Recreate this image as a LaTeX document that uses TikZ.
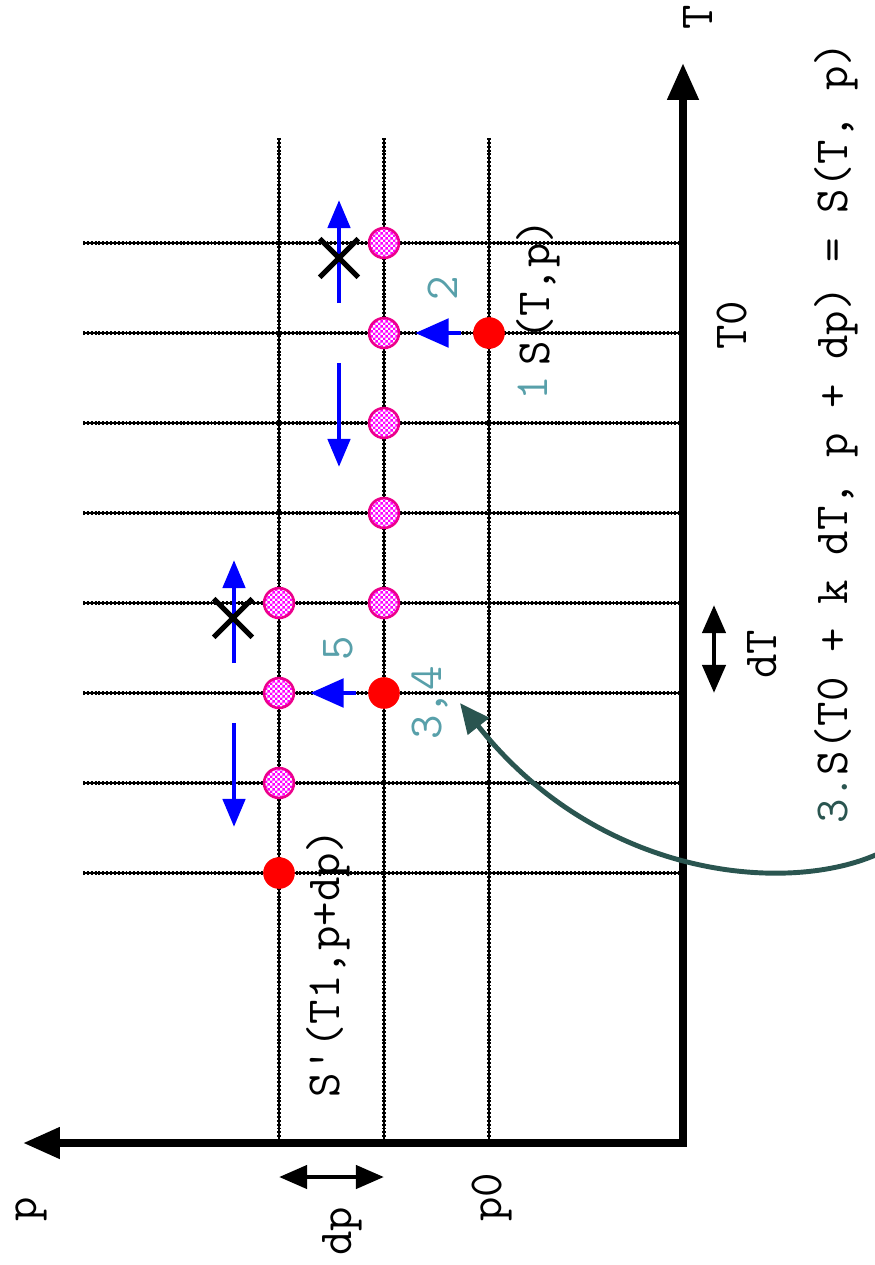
\documentclass[tikz,border=0pt]{standalone}
\usetikzlibrary{arrows.meta,patterns,shapes.misc}
\definecolor{hellblau}{RGB}{88,160,170}
\definecolor{dunkelgruen}{RGB}{42,85,80}
\pgfdeclarepatternformonly{feinkaro}{\pgfpointorigin}{\pgfqpoint{2.8pt}{2.8pt}}{\pgfqpoint{2.8pt}{2.8pt}}{%
    \pgfpathrectangle{\pgfpointorigin}{\pgfqpoint{1.4pt}{1.4pt}}%
    \pgfpathrectangle{\pgfqpoint{1.4pt}{1.4pt}}{\pgfqpoint{1.4pt}{1.4pt}}%
    \pgfusepath{fill}}
\tikzset{
    voll/.style={circle, fill=red, inner sep=0pt, minimum size=18pt},
    kariert/.style={circle, draw=magenta, line width=1.5pt, preaction={fill=white},
        pattern=feinkaro, pattern color=magenta, inner sep=0pt, minimum size=17pt},
    kreuz/.style={cross out, draw=black, line width=3pt, inner sep=0pt, minimum size=19pt},
    gitter/.style={line width=1.8pt, dash pattern=on 1.1pt off 1.1pt, preaction={draw, solid, line width=1pt}},
    schrift/.style={rotate=90, inner sep=0pt, font=\ttfamily\fontsize{27}{32}\selectfont},
    nummer/.style={schrift, text=hellblau},
    achse/.style={line width=4.5pt, line join=miter, {Triangle[length=21pt,width=17pt]}-{Triangle[length=21pt,width=17pt]}},
    doppel/.style={line width=2.8pt, {Triangle[length=16pt,width=13pt]}-{Triangle[length=16pt,width=13pt]}},
    pfeil/.style={draw=blue, line width=2.8pt, -{Triangle[length=16pt,width=12.5pt]}},
    pfeilq/.style={draw=blue, line width=2.8pt, -{Triangle[length=19pt,width=16pt]}},
    bogen/.style={draw=dunkelgruen, line width=2.8pt, -{Triangle[length=17pt,width=15pt]}}
}
\begin{document}
\begin{tikzpicture}[x=0.02cm, y=-0.02cm]
    \useasboundingbox (0,0) rectangle (875,1265);
    \draw[gitter] (83,243) -- (683,243);
    \draw[gitter] (83,333) -- (683,333);
    \draw[gitter] (83,423) -- (683,423);
    \draw[gitter] (83,513) -- (683,513);
    \draw[gitter] (83,603) -- (683,603);
    \draw[gitter] (83,693) -- (683,693);
    \draw[gitter] (83,783) -- (683,783);
    \draw[gitter] (83,873) -- (683,873);
    \draw[gitter] (279,138) -- (279,1143);
    \draw[gitter] (384,138) -- (384,1143);
    \draw[gitter] (489,138) -- (489,1143);
    \path coordinate (O) at (683,1143)
        coordinate (Tende) at (683,63)
        coordinate (pende) at (23,1143)
        coordinate (dp1) at (279,1177) coordinate (dp2) at (384,1177)
        coordinate (dT1) at (714,605) coordinate (dT2) at (714,693)
        coordinate (K1) at (880,853) coordinate (K2) at (460,703)
        coordinate (A1) at (339,303) coordinate (B1) at (339,200)
        coordinate (A2) at (339,363) coordinate (B2) at (339,467)
        coordinate (A3) at (234,663) coordinate (B3) at (234,560)
        coordinate (A4) at (234,723) coordinate (B4) at (234,827);
    \path node[voll] (R1) at (489,333) {}
        node[voll] (R2) at (384,693) {}
        node[voll] (R3) at (279,873) {}
        node[kariert] (M1) at (384,243) {}
        node[kariert] (M2) at (384,333) {}
        node[kariert] (M3) at (384,423) {}
        node[kariert] (M4) at (384,513) {}
        node[kariert] (M5) at (384,603) {}
        node[kariert] (M6) at (279,603) {}
        node[kariert] (M7) at (279,693) {}
        node[kariert] (M8) at (279,783) {};
    \draw[achse] (pende) -- (O) -- (Tende);
    \draw[doppel] (dp1) -- (dp2);
    \draw[doppel] (dT1) -- (dT2);
    \draw[pfeilq, shorten <=7pt, shorten >=8.5pt] (R1) -- (M2);
    \draw[pfeilq, shorten <=7pt, shorten >=8.5pt] (R2) -- (M7);
    \draw[pfeil] (A1) -- (B1);
    \draw[pfeil] (A2) -- (B2);
    \draw[pfeil] (A3) -- (B3);
    \draw[pfeil] (A4) -- (B4);
    \path node[kreuz] (X1) at (339,258) {}
        node[kreuz] (X2) at (233,618) {};
    \draw[bogen] (K1) .. controls (790,895) and (600,880) .. (K2);
    \path node[schrift] (TLab) at (698,17) {T}
        node[schrift] (pLab) at (31,1209) {p}
        node[schrift] (p0) at (492,1197) {p0}
        node[schrift] (dp) at (342,1231) {dp}
        node[schrift] (T0) at (732,325) {T0}
        node[schrift] (dT) at (762,654) {dT}
        node[schrift] (S) at (538,292) {S(T,p)}
        node[schrift] (S1) at (328,963) {S'(T1,p+dp)}
        node[nummer] (n1) at (533,388) {1}
        node[nummer] (n2) at (443,288) {2}
        node[nummer] (n34) at (430,703) {3,4}
        node[nummer] (n5) at (338,648) {5}
        node[schrift] (formel) at (836,433) {\textcolor{dunkelgruen}{3.}S(T0 + k dT, p + dp) = S(T, p)};
\end{tikzpicture}
\end{document}
